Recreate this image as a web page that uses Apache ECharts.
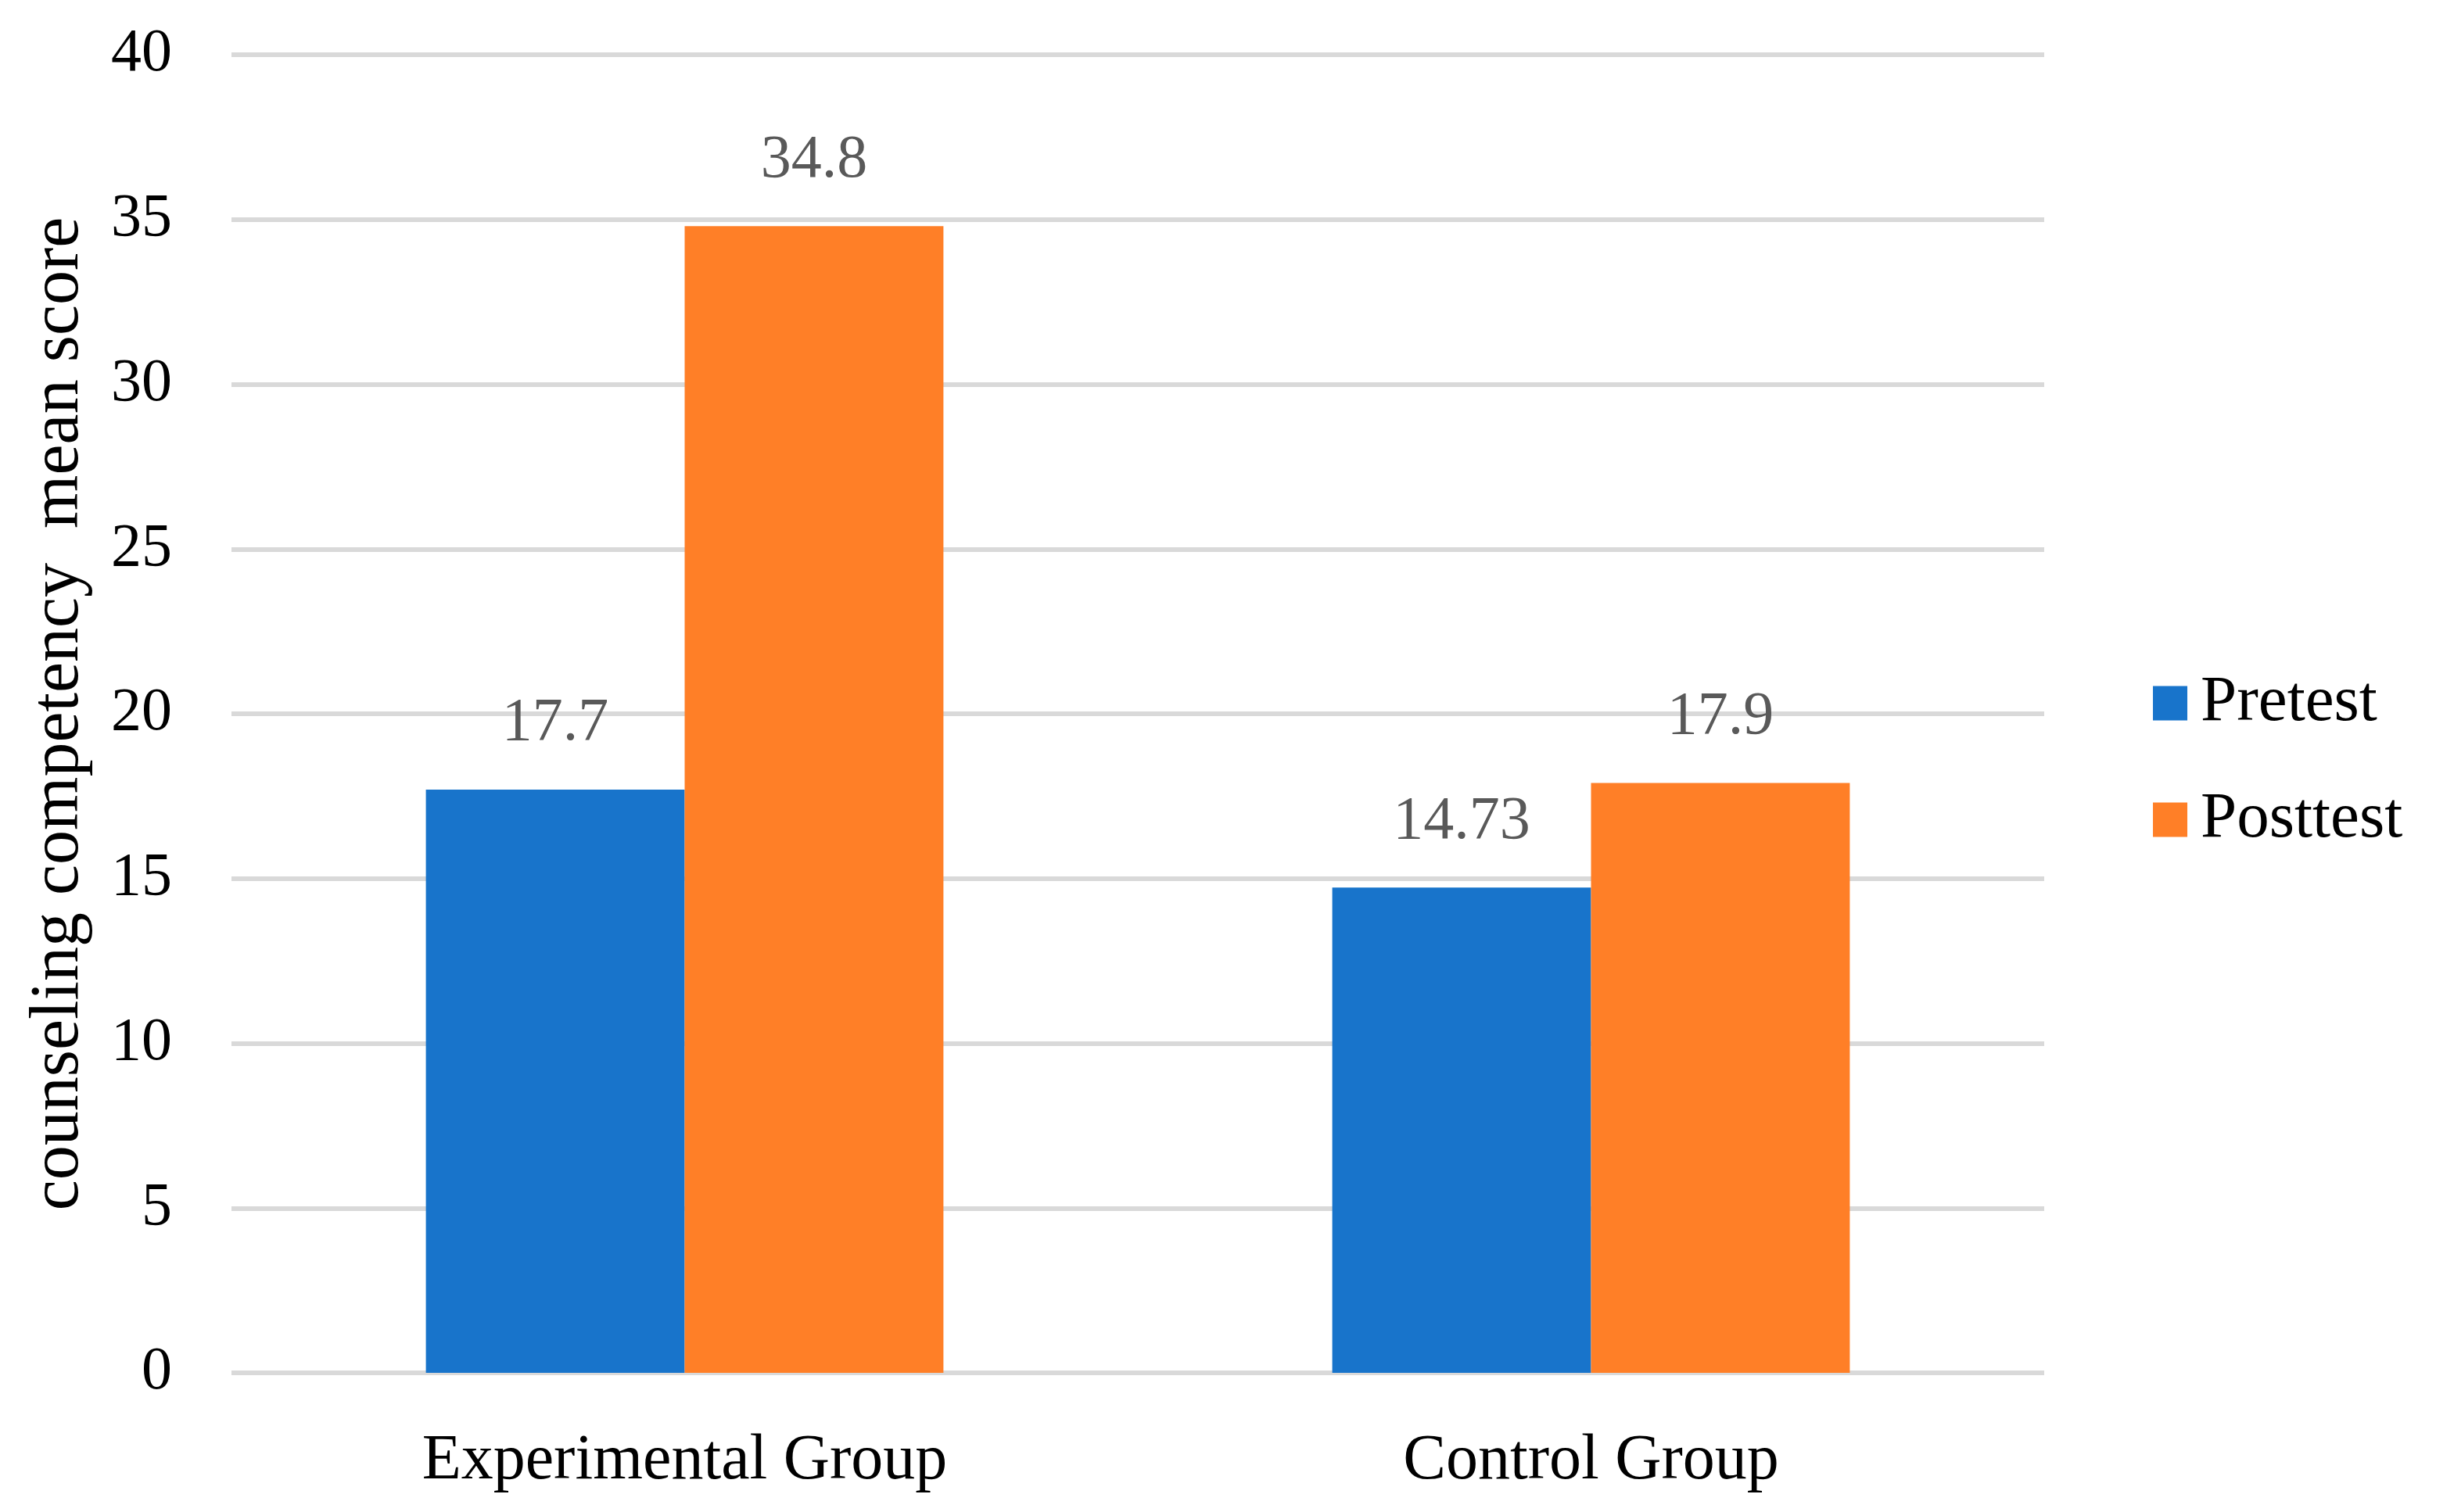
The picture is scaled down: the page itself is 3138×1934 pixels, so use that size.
<!DOCTYPE html>
<html>
<head>
<meta charset="utf-8">
<script src="https://cdn.jsdelivr.net/npm/echarts@6/dist/echarts.min.js"></script>
<style>html,body{margin:0;padding:0;background:#fff}#c{width:3138px;height:1934px}</style>
</head>
<body>
<div id="c"></div>
<script>
const categories = ['Experimental Group', 'Control Group'];
const pretest = [17.7, 14.73];
const posttest = [34.8, 17.9];
const yTicks = { min: 0, max: 40, interval: 5 };

const FONT = '"Liberation Serif", "DejaVu Serif", serif';
const chart = echarts.init(document.getElementById('c'));
const labelStyle = {
  show: true, position: 'top', distance: 45,
  fontFamily: FONT, fontSize: 78, color: '#595959'
};
chart.setOption({
  animation: false,
  backgroundColor: '#fff',
  grid: { left: 296, right: 524, top: 70, bottom: 178 },
  legend: {
    orient: 'vertical', left: 2748, top: 853,
    itemWidth: 44, itemHeight: 44, itemGap: 66,
    icon: 'rect',
    textStyle: { fontFamily: FONT, fontSize: 83, color: '#000', padding: [0, 0, 0, 12] },
    data: ['Pretest', 'Posttest']
  },
  xAxis: {
    type: 'category', data: categories,
    axisLine: { show: false }, axisTick: { show: false },
    axisLabel: { fontFamily: FONT, fontSize: 82, color: '#000', margin: 72 }
  },
  yAxis: {
    type: 'value', min: yTicks.min, max: yTicks.max, interval: yTicks.interval,
    name: 'counseling competency  mean score',
    nameLocation: 'middle', nameGap: 176,
    nameTextStyle: { fontFamily: FONT, fontSize: 88, color: '#000' },
    axisLine: { show: false }, axisTick: { show: false },
    axisLabel: { fontFamily: FONT, fontSize: 78, color: '#000', margin: 76 },
    splitLine: { lineStyle: { color: '#D9D9D9', width: 6 } }
  },
  series: [
    { name: 'Pretest', type: 'bar', data: pretest, barWidth: '28.55%', barGap: '0%',
      itemStyle: { color: '#1874CB' }, label: labelStyle },
    { name: 'Posttest', type: 'bar', data: posttest, barWidth: '28.55%', barGap: '0%',
      itemStyle: { color: '#FF7F27' }, label: labelStyle }
  ]
});
</script>
</body>
</html>
